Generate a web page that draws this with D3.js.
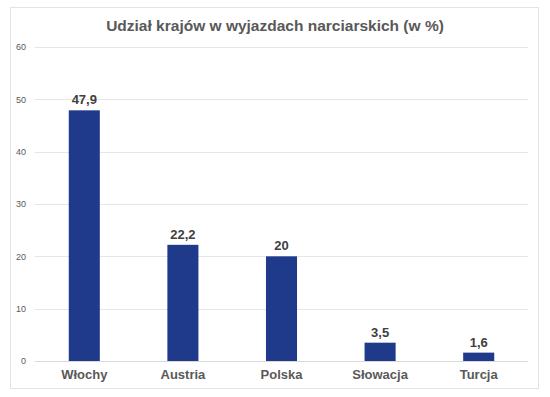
<!DOCTYPE html>
<html>
<head>
<meta charset="utf-8">
<script src="https://cdn.jsdelivr.net/npm/d3@7"></script>
<style>
  body { margin: 0; background: #fff; }
  svg { display: block; font-family: "Liberation Sans", Arial, sans-serif; }
</style>
</head>
<body>
<svg id="chart"></svg>
<script>
const categories = ["Włochy", "Austria", "Polska", "Słowacja", "Turcja"];
const values = [47.9, 22.2, 20, 3.5, 1.6];
const valueLabels = ["47,9", "22,2", "20", "3,5", "1,6"];
const yTicks = [0, 10, 20, 30, 40, 50, 60];
const title = "Udział krajów w wyjazdach narciarskich (w %)";

const width = 550;
const height = 397;
const margin = { top: 47, right: 22, bottom: 36, left: 35 };

const svg = d3.select("#chart")
  .attr("width", width)
  .attr("height", height);

// ramka wykresu
svg.append("rect")
  .attr("x", 10.5).attr("y", 7.5)
  .attr("width", 528).attr("height", 381)
  .attr("fill", "#fff")
  .attr("stroke", "#e3e3e3");

svg.append("text")
  .attr("x", 275).attr("y", 31)
  .attr("text-anchor", "middle")
  .attr("font-size", 15.5)
  .attr("font-weight", "bold")
  .attr("fill", "#595959")
  .text(title);

const x = d3.scaleBand()
  .domain(categories)
  .range([margin.left, width - margin.right])
  .paddingInner(0.685)
  .paddingOuter(0.3425);

const y = d3.scaleLinear()
  .domain([0, 60])
  .range([height - margin.bottom, margin.top]);

const g = svg.append("g");

// linie siatki
g.selectAll(".grid")
  .data(yTicks)
  .join("line")
  .attr("class", "grid")
  .attr("x1", margin.left)
  .attr("x2", width - margin.right)
  .attr("y1", d => Math.round(y(d)) + 0.5)
  .attr("y2", d => Math.round(y(d)) + 0.5)
  .attr("stroke", d => d === 0 ? "#d9d9d9" : "#e6e6e6");

const yAxis = d3.axisLeft(y).tickValues(yTicks).tickSize(0).tickPadding(9);
svg.append("g")
  .attr("transform", `translate(${margin.left},0)`)
  .call(yAxis)
  .call(a => a.select(".domain").remove())
  .call(a => a.selectAll("text")
    .attr("font-size", 9)
    .attr("fill", "#595959")
    .attr("font-family", "Liberation Sans, Arial, sans-serif"));

g.selectAll(".bar")
  .data(values)
  .join("rect")
  .attr("class", "bar")
  .attr("x", (d, i) => x(categories[i]))
  .attr("width", x.bandwidth())
  .attr("y", d => y(d))
  .attr("height", d => y(0) - y(d))
  .attr("fill", "#203a8b");

g.selectAll(".val")
  .data(values)
  .join("text")
  .attr("class", "val")
  .attr("x", (d, i) => x(categories[i]) + x.bandwidth() / 2)
  .attr("y", d => y(d) - 6)
  .attr("text-anchor", "middle")
  .attr("font-size", 13)
  .attr("font-weight", "bold")
  .attr("fill", "#404040")
  .text((d, i) => valueLabels[i]);

const xAxis = d3.axisBottom(x).tickSize(0).tickPadding(9);
svg.append("g")
  .attr("transform", `translate(0,${y(0)})`)
  .call(xAxis)
  .call(a => a.select(".domain").remove())
  .call(a => a.selectAll("text")
    .attr("font-size", 13)
    .attr("font-weight", "bold")
    .attr("fill", "#595959")
    .attr("font-family", "Liberation Sans, Arial, sans-serif"));
</script>
</body>
</html>
